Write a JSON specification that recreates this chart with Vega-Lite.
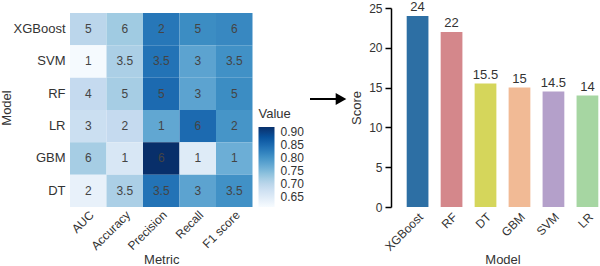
{
  "$schema": "https://vega.github.io/schema/vega-lite/v6.json",
  "padding": {"left": 0, "top": 0, "right": 0, "bottom": 0},
  "bounds": "flush",
  "spacing": 0,
  "config": {
    "font": "Liberation Sans",
    "view": {"stroke": null},
    "axis": {"labelColor": "#333333", "titleColor": "#333333", "titleFontWeight": "normal", "grid": false},
    "legend": {"labelColor": "#333333", "titleColor": "#333333", "titleFontWeight": "normal"}
  },
  "datasets": {
    "heat": [
      {"Model": "XGBoost", "Metric": "AUC", "Value": 0.70, "Rank": 5},
      {"Model": "XGBoost", "Metric": "Accuracy", "Value": 0.725, "Rank": 6},
      {"Model": "XGBoost", "Metric": "Precision", "Value": 0.835, "Rank": 2},
      {"Model": "XGBoost", "Metric": "Recall", "Value": 0.81, "Rank": 5},
      {"Model": "XGBoost", "Metric": "F1 score", "Value": 0.815, "Rank": 6},
      {"Model": "SVM", "Metric": "AUC", "Value": 0.615, "Rank": 1},
      {"Model": "SVM", "Metric": "Accuracy", "Value": 0.715, "Rank": 3.5},
      {"Model": "SVM", "Metric": "Precision", "Value": 0.84, "Rank": 3.5},
      {"Model": "SVM", "Metric": "Recall", "Value": 0.78, "Rank": 3},
      {"Model": "SVM", "Metric": "F1 score", "Value": 0.805, "Rank": 3.5},
      {"Model": "RF", "Metric": "AUC", "Value": 0.69, "Rank": 4},
      {"Model": "RF", "Metric": "Accuracy", "Value": 0.72, "Rank": 5},
      {"Model": "RF", "Metric": "Precision", "Value": 0.85, "Rank": 5},
      {"Model": "RF", "Metric": "Recall", "Value": 0.78, "Rank": 3},
      {"Model": "RF", "Metric": "F1 score", "Value": 0.81, "Rank": 5},
      {"Model": "LR", "Metric": "AUC", "Value": 0.68, "Rank": 3},
      {"Model": "LR", "Metric": "Accuracy", "Value": 0.69, "Rank": 2},
      {"Model": "LR", "Metric": "Precision", "Value": 0.775, "Rank": 1},
      {"Model": "LR", "Metric": "Recall", "Value": 0.85, "Rank": 6},
      {"Model": "LR", "Metric": "F1 score", "Value": 0.80, "Rank": 2},
      {"Model": "GBM", "Metric": "AUC", "Value": 0.72, "Rank": 6},
      {"Model": "GBM", "Metric": "Accuracy", "Value": 0.66, "Rank": 1},
      {"Model": "GBM", "Metric": "Precision", "Value": 0.92, "Rank": 6},
      {"Model": "GBM", "Metric": "Recall", "Value": 0.65, "Rank": 1},
      {"Model": "GBM", "Metric": "F1 score", "Value": 0.765, "Rank": 1},
      {"Model": "DT", "Metric": "AUC", "Value": 0.635, "Rank": 2},
      {"Model": "DT", "Metric": "Accuracy", "Value": 0.715, "Rank": 3.5},
      {"Model": "DT", "Metric": "Precision", "Value": 0.84, "Rank": 3.5},
      {"Model": "DT", "Metric": "Recall", "Value": 0.78, "Rank": 3},
      {"Model": "DT", "Metric": "F1 score", "Value": 0.805, "Rank": 3.5}
    ],
    "scores": [
      {"Model": "XGBoost", "Score": 24},
      {"Model": "RF", "Score": 22},
      {"Model": "DT", "Score": 15.5},
      {"Model": "GBM", "Score": 15},
      {"Model": "SVM", "Score": 14.5},
      {"Model": "LR", "Score": 14}
    ]
  },
  "hconcat": [
    {
      "width": 182.5,
      "height": 199,
      "data": {"name": "heat"},
      "encoding": {
        "x": {
          "field": "Metric", "type": "nominal",
          "sort": ["AUC", "Accuracy", "Precision", "Recall", "F1 score"],
          "axis": {"title": "Metric", "labelAngle": -45, "ticks": false, "domain": false, "labelPadding": 2, "labelFontSize": 12, "titleFontSize": 13, "titlePadding": 2}
        },
        "y": {
          "field": "Model", "type": "nominal",
          "sort": ["XGBoost", "SVM", "RF", "LR", "GBM", "DT"],
          "scale": {"paddingInner": 0, "paddingOuter": 0.0773, "align": 1},
          "axis": {"title": "Model", "ticks": false, "domain": false, "labelPadding": 5, "labelFontSize": 13, "titleFontSize": 13, "titlePadding": -1}
        }
      },
      "layer": [
        {
          "mark": {"type": "rect"},
          "encoding": {
            "color": {
              "field": "Value", "type": "quantitative",
              "scale": {"domain": [0.612, 0.919], "range": ["#f7fbff", "#deebf7", "#c6dbef", "#9ecae1", "#6baed6", "#4292c6", "#2171b5", "#08519c", "#08306b"]},
              "legend": {
                "title": "Value", "values": [0.65, 0.7, 0.75, 0.8, 0.85, 0.9], "format": ".2f",
                "gradientLength": 80, "gradientThickness": 16, "gradientStrokeWidth": 0,
                "orient": "none", "legendX": 188.5, "legendY": 100,
                "labelFontSize": 12, "titleFontSize": 13, "labelOverlap": false,
                "titlePadding": 6, "labelOffset": 6
              }
            }
          }
        },
        {
          "mark": {"type": "text", "fontSize": 12, "color": "#444444"},
          "encoding": {"text": {"field": "Rank", "type": "nominal"}}
        }
      ]
    },
    {
      "width": 152,
      "height": 199,
      "data": {"values": [{}]},
      "layer": [
        {
          "mark": {"type": "rule", "strokeWidth": 2, "color": "#000000"},
          "encoding": {
            "x": {"datum": 57, "type": "quantitative", "scale": {"domain": [0, 152], "nice": false, "zero": false}, "axis": null},
            "x2": {"datum": 85},
            "y": {"datum": 108, "type": "quantitative", "scale": {"domain": [0, 199], "nice": false}, "axis": null}
          }
        },
        {
          "mark": {"type": "point", "shape": "triangle-right", "filled": true, "color": "#000000", "size": 150, "opacity": 1},
          "encoding": {
            "x": {"datum": 88, "type": "quantitative"},
            "y": {"datum": 108, "type": "quantitative"}
          }
        }
      ]
    },
    {
      "width": 195,
      "height": 199,
      "data": {"name": "scores"},
      "encoding": {
        "x": {
          "field": "Model", "type": "nominal", "sort": null,
          "scale": {"paddingInner": 0.36, "paddingOuter": 0.05},
          "axis": {"title": "Model", "labelAngle": -45, "domain": false, "ticks": false, "labelFontSize": 12, "titleFontSize": 13, "labelPadding": 4, "titlePadding": 1}
        },
        "y": {
          "field": "Score", "type": "quantitative",
          "scale": {"domain": [0, 25], "nice": false},
          "axis": {"title": "Score", "values": [0, 5, 10, 15, 20, 25], "grid": false, "domain": true, "domainColor": "#000000", "tickColor": "#000000", "domainWidth": 1.5, "tickWidth": 1.5, "tickSize": 6, "offset": 14, "labelFontSize": 12, "titleFontSize": 13, "labelPadding": 3, "titlePadding": 5}
        }
      },
      "layer": [
        {
          "mark": {"type": "bar"},
          "encoding": {
            "color": {
              "field": "Model", "type": "nominal",
              "scale": {"domain": ["XGBoost", "RF", "DT", "GBM", "SVM", "LR"], "range": ["#2d6fa4", "#d4878b", "#d5d65b", "#f1ba95", "#b4a0ca", "#a6d6a2"]},
              "legend": null
            }
          }
        },
        {
          "mark": {"type": "text", "dy": -5, "baseline": "alphabetic", "fontSize": 13, "color": "#333333"},
          "encoding": {"text": {"field": "Score", "type": "nominal"}}
        }
      ]
    }
  ]
}
